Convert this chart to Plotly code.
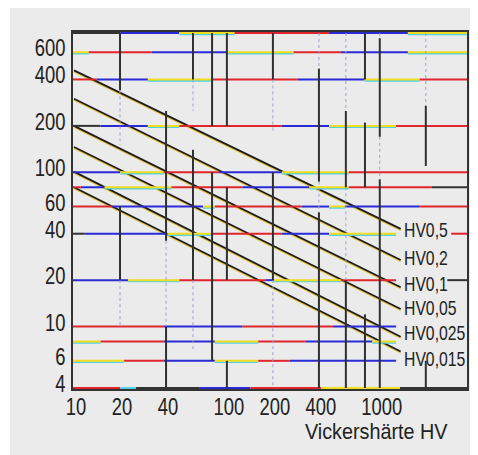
import math
import plotly.graph_objects as go

# ---------------- data ----------------
hv_labels = ["HV0,5", "HV0,2", "HV0,1", "HV0,05", "HV0,025", "HV0,015"]
hv_x_start = [10, 10, 10, 10, 10, 10]
hv_x_end = [1370, 1370, 1370, 1370, 1370, 1370]
hv_y_start = [458, 300, 200, 146, 101, 80]
hv_y_end = [43, 27, 18, 13, 8.6, 6.9]

x_ticks = [10, 20, 40, 100, 200, 400, 1000]
x_tick_text = ["10", "20", "40", "100", "200", "400", "1000"]
y_ticks = [4, 6, 10, 20, 40, 60, 100, 200, 400, 600]
y_tick_text = ["4", "6", "10", "20", "40", "60", "100", "200", "400", "600"]
x_title = "Vickershärte HV"

# horizontal grid lines (values on the y axis)
h_grid = [800, 600, 400, 200, 100, 80, 60, 40, 20, 10, 8, 6, 4]
# vertical grid lines (values on the x axis) and the y-spans where they are drawn solid
v_grid = [20, 40, 60, 80, 100, 200, 400, 600, 800, 1000, 2000]
v_solid = [
    [(800, 340), (60, 20)],
    [(250, 36), (10, 4)],
    [(800, 400), (140, 20)],
    [(800, 200), (100, 6)],
    [(800, 200), (80, 20), (6, 4)],
    [(800, 400), (100, 20)],
    [(470, 87), (55, 4)],
    [(250, 80), (20, 4)],
    [(800, 400), (210, 80), (12, 4)],
    [(740, 170), (90, 4)],
    [(270, 110), (6, 4)],
]
v_faint = [
    [(340, 150), (20, 10)],
    [(36, 10)],
    [(400, 250), (20, 7)],
    [],
    [],
    [(400, 180), (20, 4)],
    [(800, 470), (87, 55)],
    [(800, 250), (80, 20)],
    [],
    [(800, 740), (170, 90)],
    [(800, 270)],
]

# ---------------- styles ----------------
COL = {"R": "#e0262c", "B": "#2a2ad6", "Y": "#f2dc1e", "C": "#4fd2e6", "K": "#333333"}
# colour pieces along each horizontal line, in percent of the axis width (scan colour fringes)
h_pieces = [
    [("K", 0, 12), ("B", 12, 27), ("Y", 27, 41), ("R", 41, 65), ("B", 65, 85), ("Y", 85, 100)],
    [("Y", 0, 4), ("R", 4, 20), ("B", 20, 39), ("Y", 39, 56), ("R", 56, 68), ("B", 68, 85), ("Y", 85, 100)],
    [("R", 0, 6), ("B", 6, 19), ("Y", 19, 35), ("R", 35, 57), ("B", 57, 74), ("Y", 74, 88), ("R", 88, 100)],
    [("K", 0, 7), ("B", 7, 19), ("Y", 19, 27), ("R", 27, 53), ("B", 53, 65), ("Y", 65, 82), ("R", 82, 100)],
    [("B", 0, 12), ("Y", 12, 23), ("R", 23, 37), ("B", 37, 53), ("Y", 53, 70), ("R", 70, 100)],
    [("R", 0, 2), ("B", 2, 8), ("Y", 8, 25), ("R", 25, 43), ("B", 43, 60), ("Y", 60, 70), ("R", 70, 91), ("K", 91, 100)],
    [("R", 0, 10), ("B", 10, 33), ("Y", 33, 36), ("R", 36, 58), ("B", 58, 65), ("Y", 65, 69), ("B", 69, 88), ("R", 88, 100)],
    [("K", 0, 3), ("B", 3, 24), ("Y", 24, 35), ("R", 35, 53), ("B", 53, 65), ("Y", 65, 82), ("R", 96, 100)],
    [("B", 0, 14), ("Y", 14, 27), ("R", 27, 49), ("B", 49, 51), ("Y", 51, 68), ("R", 68, 82), ("K", 95, 100)],
    [("R", 0, 23), ("B", 23, 43), ("R", 43, 66), ("B", 66, 82)],
    [("Y", 0, 7), ("R", 7, 23), ("B", 23, 36), ("Y", 36, 47), ("R", 47, 59), ("B", 59, 76), ("Y", 76, 82)],
    [("Y", 0, 13), ("R", 13, 23), ("B", 23, 36), ("Y", 36, 47), ("R", 47, 55), ("B", 55, 82)],
    [("R", 0, 12), ("C", 12, 16), ("K", 16, 32), ("B", 32, 45), ("R", 45, 63), ("Y", 63, 83), ("K", 83, 100)],
]
label_yshift = [-1, 3, 4, 2, 4, -7]

FONT = "'Liberation Sans', Arial, sans-serif"
INK = "#222222"

fig = go.Figure()

shapes = []
# grey scan background
shapes.append(dict(type="rect", xref="paper", yref="paper", x0=-0.16, x1=1.1, y0=-0.3, y1=1.1,
                   fillcolor="#ebebeb", line=dict(width=0), layer="below"))

# horizontal coloured lines
fringe = 10 ** (-1.4 / 154.0)
for val, pieces in zip(h_grid, h_pieces):
    for code, a, b in pieces:
        if code == "Y":
            shapes.append(dict(type="line", xref="x domain", yref="y", x0=a / 100, x1=b / 100,
                               y0=val * fringe, y1=val * fringe, line=dict(color=COL["C"], width=1.6)))
        shapes.append(dict(type="line", xref="x domain", yref="y", x0=a / 100, x1=b / 100,
                           y0=val, y1=val, line=dict(color=COL[code], width=2)))

# vertical lines
for xv, solid, faint in zip(v_grid, v_solid, v_faint):
    for (ya, yb) in faint:
        shapes.append(dict(type="line", xref="x", yref="y", x0=xv, x1=xv, y0=ya, y1=yb,
                           line=dict(color="#a0a0c8", width=1, dash="dot")))
    for (ya, yb) in solid:
        shapes.append(dict(type="line", xref="x", yref="y", x0=xv, x1=xv, y0=ya, y1=yb,
                           line=dict(color="#303030", width=2)))

# diagonal Vickers load lines
for lab, xs, xe, ys, ye in zip(hv_labels, hv_x_start, hv_x_end, hv_y_start, hv_y_end):
    fig.add_trace(go.Scatter(x=[xs, xe], y=[ys * fringe, ye * fringe], mode="lines",
                             line=dict(color="#e8c840", width=1.4), hoverinfo="skip", showlegend=False))
    fig.add_trace(go.Scatter(x=[xs, xe], y=[ys, ye], mode="lines",
                             line=dict(color="#1c1c1c", width=1.8), name=lab, showlegend=False))

annotations = []
for lab, xe, ye, dy in zip(hv_labels, hv_x_end, hv_y_end, label_yshift):
    annotations.append(dict(x=math.log10(xe), y=math.log10(ye), xref="x", yref="y", text=lab,
                            showarrow=False, xanchor="left", yanchor="middle", xshift=1, yshift=dy,
                            font=dict(family=FONT, size=21, color=INK)))
annotations.append(dict(x=0.957, y=-0.12, xref="paper", yref="paper", text=x_title, showarrow=False,
                        xanchor="right", yanchor="middle", font=dict(family=FONT, size=22, color=INK)))

# the page body has an 8px margin, so the figure is sized/offset to land where the original sits
fig.update_layout(
    width=470, height=447,
    margin=dict(l=65, r=11, t=24, b=66),
    paper_bgcolor="#ffffff", plot_bgcolor="#ebebeb",
    shapes=shapes, annotations=annotations, showlegend=False,
    font=dict(family=FONT, size=22, color=INK),
)
fig.update_xaxes(type="log", range=[math.log10(9.85), math.log10(3720)], tickvals=x_ticks,
                 ticktext=x_tick_text, showgrid=False, zeroline=False, showline=True, mirror=True,
                 automargin=False, linecolor="#333333", linewidth=2, ticks="", ticklabelstandoff=-4,
                 ticklabelshift=2, tickfont=dict(family=FONT, size=23, color=INK))
fig.update_yaxes(type="log", range=[math.log10(3.94), math.log10(812)], tickvals=y_ticks,
                 ticktext=y_tick_text, showgrid=False, zeroline=False, showline=True, mirror=True,
                 automargin=False, linecolor="#333333", linewidth=2, ticks="", ticklabelshift=-4,
                 ticklabelstandoff=1, tickfont=dict(family=FONT, size=23, color=INK))

# narrow the lettering horizontally (the original uses a condensed drafting font)
post = """
var gd = document.getElementById('{plot_id}');
function squeeze(t, s, mode) {
  var bb = t.getBBox();
  var ax = parseFloat(t.getAttribute('x')) || 0;
  if (mode === 'left') ax = bb.x;
  if (mode === 'right') ax = bb.x + bb.width;
  var tr = t.getAttribute('transform') || '';
  t.setAttribute('transform', tr + ' translate(' + ax + ',0) scale(' + s + ',1) translate(' + (-ax) + ',0)');
}
gd.querySelectorAll('.xtick text').forEach(function(t){ squeeze(t, 0.8, 'anchor'); });
gd.querySelectorAll('.ytick text').forEach(function(t){ squeeze(t, 0.8, 'anchor'); });
gd.querySelectorAll('g.annotation').forEach(function(a){
  var i = a.getAttribute('data-index');
  a.querySelectorAll('text').forEach(function(t){
    if (i === '6') squeeze(t, 0.9, 'right'); else squeeze(t, 0.75, 'left');
  });
});
"""

fig.write_html("out.html", post_script=post)
